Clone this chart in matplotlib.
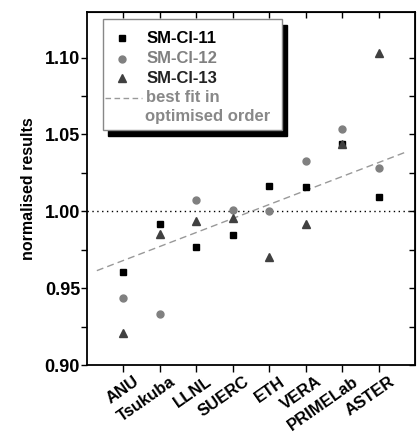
import matplotlib
matplotlib.use("Agg")
import matplotlib.pyplot as plt
from matplotlib.patches import Rectangle
from matplotlib.transforms import ScaledTranslation

labs = ["ANU", "Tsukuba", "LLNL", "SUERC", "ETH", "VERA", "PRIMELab", "ASTER"]
sm11 = [0.9603, 0.9915, 0.9766, 0.9848, 1.0167, 1.0158, 1.0438, 1.0093]
sm12 = [0.9434, 0.9330, 1.0072, 1.0009, 1.0000, 1.0330, 1.0534, 1.0284]
sm13 = [0.9206, 0.9850, 0.9935, 0.9954, 0.9703, 0.9918, 1.0438, 1.1028]
fit_x = [0.27, 8.71]
fit_y = [0.9614, 1.0382]

plt.rcParams["font.family"] = ["Liberation Sans", "DejaVu Sans"]
plt.rcParams["font.weight"] = "bold"

fig = plt.figure(figsize=(4.19, 4.32), dpi=100)
ax = fig.add_axes([87 / 419, 1 - 365 / 432, 328 / 419, 353 / 432])

x = list(range(1, len(labs) + 1))
ax.axhline(1.0, color="k", lw=1.0, ls=(0, (1, 2.5)), zorder=1)
ax.plot(fit_x, fit_y, color="#999999", lw=1.0, ls=(0, (5, 3)), zorder=1)
ax.plot(x, sm11, ls="none", marker="s", ms=4.5, color="black", zorder=3)
ax.plot(x, sm12, ls="none", marker="o", ms=5, color="#808080", zorder=3)
ax.plot(x, sm13, ls="none", marker="^", ms=5.5, color="#404040", zorder=3)

ax.set_xlim(0, 9)
ax.set_ylim(0.90, 1.1297)
ax.set_xticks(x)
ax.set_xticklabels([])
# category labels, rotated and shifted right of their ticks as in the original
off = ScaledTranslation(10 / 100, -9 / 100, fig.dpi_scale_trans)
for xi, lab in zip(x, labs):
    ax.text(xi, 0, lab, transform=ax.get_xaxis_transform() + off, rotation=35,
            ha="right", va="top", rotation_mode="anchor", fontsize=12,
            fontweight="bold", clip_on=False)
ax.set_yticks([0.90, 0.95, 1.00, 1.05, 1.10])
ax.set_yticklabels(["0.90", "0.95", "1.00", "1.05", "1.10"], fontsize=13, fontweight="bold")
ax.set_yticks([0.925, 0.975, 1.025, 1.075], minor=True)
ax.tick_params(axis="y", which="both", direction="out", length=4.5, width=1, right=False, pad=0.5)
ax.tick_params(axis="x", which="both", direction="out", length=5, width=1, top=False)
for sp in ax.spines.values():
    sp.set_linewidth(1.3)
# inward ticks on the top and right sides
axt = ax.secondary_xaxis("top")
axt.set_xticks(x)
axt.set_xticklabels([])
axt.tick_params(direction="in", length=4, width=1)
axr = ax.secondary_yaxis("right")
axr.set_yticks([0.90, 0.925, 0.95, 0.975, 1.00, 1.025, 1.05, 1.075, 1.10])
axr.set_yticklabels([])
axr.tick_params(direction="in", length=4.5, width=1)

ax.set_ylabel("normalised results", fontsize=11.5, fontweight="bold", labelpad=6)

# legend box with shadow
lx0, ly0, lw, lh = 0.049, 0.666, 0.545, 0.313
ax.add_patch(Rectangle((lx0 + 0.016, ly0 - 0.016), lw, lh, transform=ax.transAxes,
                       facecolor="black", edgecolor="black", zorder=4))
ax.add_patch(Rectangle((lx0, ly0), lw, lh, transform=ax.transAxes,
                       facecolor="white", edgecolor="#888888", lw=1.0, zorder=5))
rows = [(0.925, "s", "black", 4.5, "SM-Cl-11", "black"),
        (0.868, "o", "#808080", 5, "SM-Cl-12", "#808080"),
        (0.812, "^", "#404040", 5.5, "SM-Cl-13", "#222222")]
for yy, m, c, s, t, tc in rows:
    ax.plot([0.106], [yy], transform=ax.transAxes, marker=m, ms=s, color=c,
            ls="none", zorder=6, clip_on=False)
    ax.text(0.18, yy, t, transform=ax.transAxes, fontsize=12, fontweight="bold",
            color=tc, va="center", ha="left", zorder=6)
ax.plot([0.055, 0.167], [0.757, 0.757], transform=ax.transAxes, color="#999999",
        lw=1.0, ls=(0, (4, 2.5)), zorder=6)
ax.text(0.18, 0.757, "best fit in", transform=ax.transAxes, fontsize=12,
        fontweight="bold", color="#888888", va="center", ha="left", zorder=6)
ax.text(0.177, 0.703, "optimised order", transform=ax.transAxes, fontsize=12,
        fontweight="bold", color="#888888", va="center", ha="left", zorder=6)

fig.savefig("out.png", dpi=100, facecolor="white")
